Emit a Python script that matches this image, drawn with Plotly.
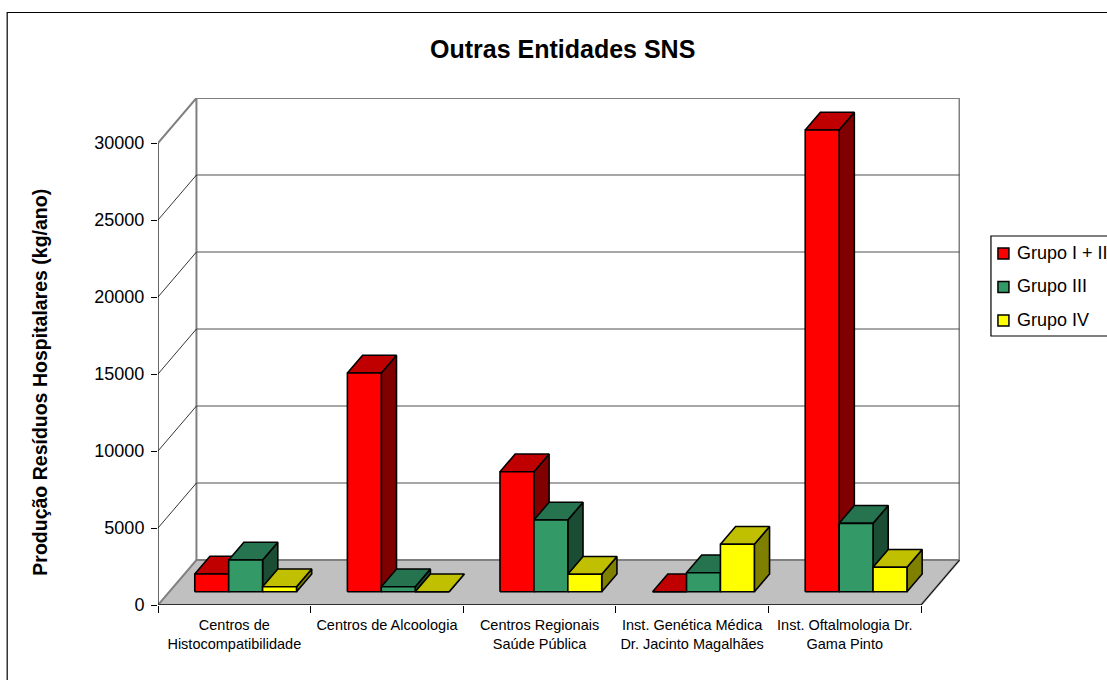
import plotly.graph_objects as go

# ---- data ----
categories = ["Centros de<br>Histocompatibilidade", "Centros de Alcoologia",
              "Centros Regionais<br>Saúde Pública",
              "Inst. Genética Médica<br>Dr. Jacinto Magalhães",
              "Inst. Oftalmologia Dr.<br>Gama Pinto"]
grupo_1_2 = [1150, 14200, 7790, 0, 29980]
grupo_3 = [2060, 325, 4655, 1235, 4440]
grupo_4 = [325, 0, 1130, 3080, 1585]
series_names = ["Grupo I + II", "Grupo III", "Grupo IV"]
y_ticks = [0, 5000, 10000, 15000, 20000, 25000, 30000]
y_tick_labels = ["0", "5000", "10000", "15000", "20000", "25000", "30000"]

front_colors = ["#FF0000", "#339966", "#FFFF00"]
top_colors = ["#C00000", "#267350", "#C0C000"]
side_colors = ["#800000", "#1A4D33", "#808000"]

# ---- oblique projection (wall depth expressed in axis units) ----
W, H = 1107, 680
LEFT, RIGHT, TOP, BOTTOM = 157.5, 960.5, 98.0, 605.0
CAT_PX, VAL_PX = 152.8, 77.0 / 5000
DEPTH_X = 38.5 / CAT_PX
DEPTH_Y = 45.0 / VAL_PX
X_MAX = (RIGHT - LEFT) / CAT_PX
Y_MAX = (BOTTOM - TOP) / VAL_PX
BAR_W = 1 / 4.5
GAP = 0.75 / 4.5
D0, D1 = 0.295, 0.69


def px(x):
    return (x - LEFT) / (RIGHT - LEFT)


def py(y):
    return (BOTTOM - y) / (BOTTOM - TOP)


def poly(points):
    xs, ys = [], []
    for p in points:
        xs += [q[0] for q in p] + [p[0][0], None]
        ys += [q[1] for q in p] + [p[0][1], None]
    return xs, ys


fig = go.Figure()


def add_poly(points, fill, line, width, name):
    xs, ys = poly(points)
    fig.add_trace(go.Scatter(x=xs, y=ys, mode="lines", fill="toself" if fill else None,
                             fillcolor=fill, line=dict(color=line, width=width),
                             name=name, showlegend=False, hoverinfo="skip", cliponaxis=False))


def add_line(x, y, color, width, name):
    fig.add_trace(go.Scatter(x=x, y=y, mode="lines", line=dict(color=color, width=width),
                             name=name, showlegend=False, hoverinfo="skip", cliponaxis=False))


# floor
add_poly([[(0, 0), (5, 0), (5 + DEPTH_X, DEPTH_Y), (DEPTH_X, DEPTH_Y)]], "#C0C0C0", "#808080", 2, "floor")
# back wall and side wall frame
add_line([0, DEPTH_X, DEPTH_X, 5 + DEPTH_X, 5 + DEPTH_X],
         [y_ticks[-1], y_ticks[-1] + DEPTH_Y, DEPTH_Y, DEPTH_Y, y_ticks[-1] + DEPTH_Y], "#808080", 2, "wall")
add_line([DEPTH_X, 5 + DEPTH_X], [y_ticks[-1] + DEPTH_Y] * 2, "#808080", 2, "wall top")
# gridlines
for v in y_ticks[1:-1]:
    add_line([DEPTH_X, 5 + DEPTH_X], [v + DEPTH_Y, v + DEPTH_Y], "#505050", 1.2, "grid")
    add_line([0, DEPTH_X], [v, v + DEPTH_Y], "#000000", 0.8, "side grid")
add_line([5, 5 + DEPTH_X], [0, DEPTH_Y], "#000000", 1, "floor edge")
# front axes
add_line([0, 0], [0, y_ticks[-1]], "#000000", 1.2, "y axis")
add_line([0, 5], [0, 0], "#303030", 2, "x axis")

# bars, series by series so that the next series covers the previous side face
for s, values in enumerate([grupo_1_2, grupo_3, grupo_4]):
    fronts, tops, sides = [], [], []
    dx, dy = (D1 - D0) * DEPTH_X, (D1 - D0) * DEPTH_Y
    for i, v in enumerate(values):
        x0 = i + GAP + s * BAR_W + D0 * DEPTH_X
        x1 = x0 + BAR_W
        y0 = D0 * DEPTH_Y
        y1 = y0 + v
        fronts.append([(x0, y0), (x1, y0), (x1, y1), (x0, y1)])
        tops.append([(x0, y1), (x1, y1), (x1 + dx, y1 + dy), (x0 + dx, y1 + dy)])
        sides.append([(x1, y0), (x1 + dx, y0 + dy), (x1 + dx, y1 + dy), (x1, y1)])
    add_poly(sides, side_colors[s], "#000000", 1.6, series_names[s] + " side")
    add_poly(tops, top_colors[s], "#000000", 1.6, series_names[s] + " top")
    add_poly(fronts, front_colors[s], "#000000", 1.6, series_names[s])

FONT = "Liberation Sans, Arial, sans-serif"
shapes = [
    dict(type="rect", xref="paper", yref="paper", x0=px(6.5), x1=px(1130), y0=py(12.5), y1=py(700),
         line=dict(color="#000000", width=1.2), fillcolor="rgba(0,0,0,0)"),
    dict(type="rect", xref="paper", yref="paper", x0=px(991.5), x1=px(1130), y0=py(236), y1=py(336),
         line=dict(color="#000000", width=1.2), fillcolor="#FFFFFF"),
]
annotations = [
    dict(text="<b>Outras Entidades SNS</b>", xref="paper", yref="paper", x=px(563), y=py(49),
         xanchor="center", yanchor="middle", showarrow=False,
         font=dict(family=FONT, size=25, color="#000000")),
    dict(text="<b>Produção Resíduos Hospitalares (kg/ano)</b>", xref="paper", yref="paper", x=px(39), y=py(382),
         xanchor="center", yanchor="middle", textangle=-90, showarrow=False,
         font=dict(family=FONT, size=19.5, color="#000000")),
]
for k, (name, color) in enumerate(zip(series_names, front_colors)):
    cy = 253.5 + k * 33.5
    shapes.append(dict(type="rect", xref="paper", yref="paper", x0=px(998.5), x1=px(1009.5),
                       y0=py(cy - 5.5), y1=py(cy + 5.5), fillcolor=color,
                       line=dict(color="#000000", width=1.5)))
    annotations.append(dict(text=name, xref="paper", yref="paper", x=px(1016), y=py(cy - 1),
                            xanchor="left", yanchor="middle", showarrow=False,
                            font=dict(family=FONT, size=18, color="#000000")))

fig.update_layout(
    width=W, height=H, autosize=False,
    margin=dict(l=LEFT, r=W - RIGHT, t=TOP, b=H - BOTTOM, pad=0, autoexpand=False),
    paper_bgcolor="#FFFFFF", plot_bgcolor="rgba(0,0,0,0)",
    showlegend=False, shapes=shapes, annotations=annotations,
    xaxis=dict(range=[0, X_MAX], showgrid=False, zeroline=False, showline=False,
               tickmode="array", tickvals=[i + 0.5 for i in range(5)], ticktext=categories,
               ticks="outside", ticklen=7, tickcolor="rgba(0,0,0,0)",
               tickfont=dict(family=FONT, size=14.5, color="#000000"), tickangle=0,
               minor=dict(tickmode="array", tickvals=list(range(6)), ticks="outside",
                          ticklen=7, tickcolor="#000000", tickwidth=1, showgrid=False)),
    yaxis=dict(range=[0, Y_MAX], showgrid=False, zeroline=False, showline=False,
               tickmode="array", tickvals=y_ticks, ticktext=y_tick_labels, ticks="outside", ticklen=6,
               tickcolor="#000000", tickwidth=1, ticklabelstandoff=3,
               tickfont=dict(family=FONT, size=18, color="#000000")),
)

fig.write_html("out.html", config={"displayModeBar": False},
               post_script="document.body.style.margin='0';document.body.style.overflow='hidden';")
